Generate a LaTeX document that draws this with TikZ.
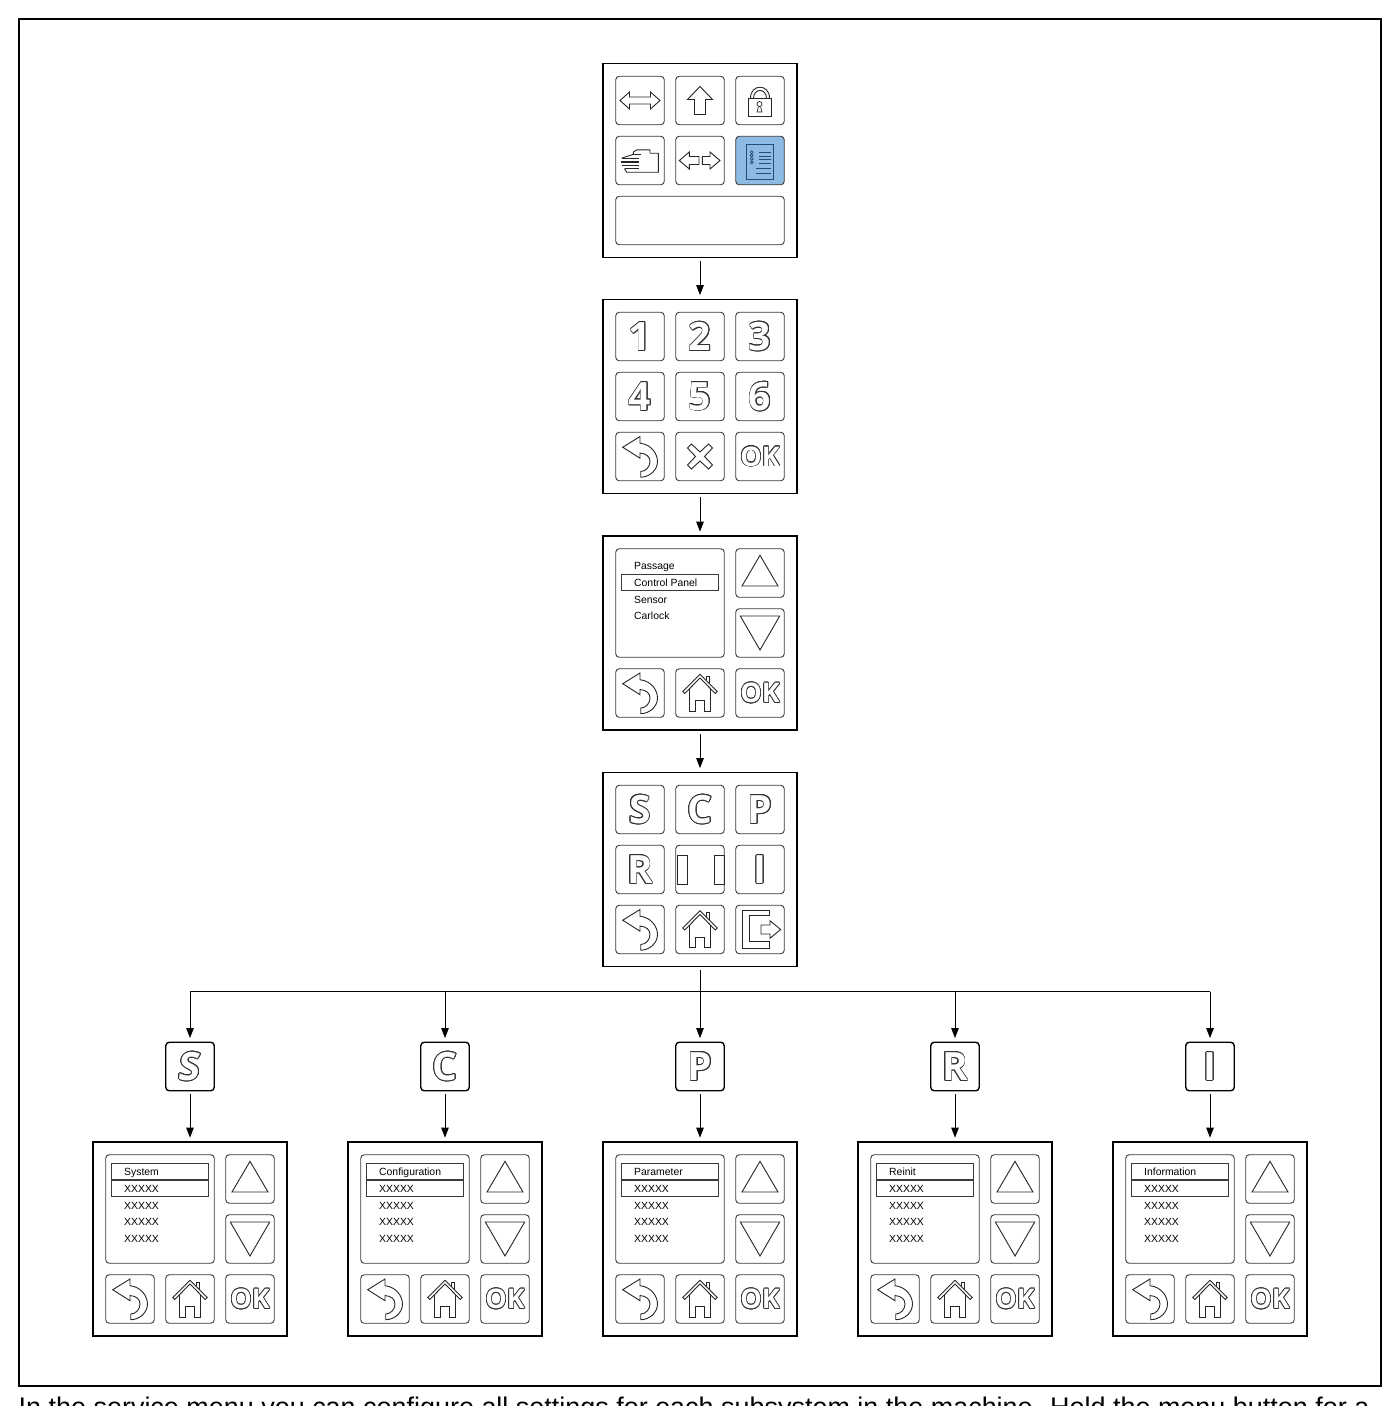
\documentclass[tikz,border=0pt]{standalone}
\usepackage{fontspec}
\setmainfont{Liberation Sans}
\newfontfamily\keyfont{Open Sans}
\usepackage{tikz}
\usetikzlibrary{arrows.meta, positioning, calc}
\definecolor{activeblue}{HTML}{8DBBE3}
\definecolor{activeline}{HTML}{1F4E79}
\definecolor{keyline}{HTML}{3A3A3A}
% outlined key letter: dark copies in a ring, white one on top
\newcommand{\keychar}[1]{%
    \foreach \a in {0,22.5,...,337.5}{%
        \pgfmathsetlengthmacro{\dx}{0.75pt*cos(\a)}%
        \pgfmathsetlengthmacro{\dy}{0.75pt*sin(\a)}%
        \rlap{\kern\dx\raise\dy\hbox{\textcolor{black!80}{#1}}}%
    }%
    \textcolor{white}{#1}%
}
\newcommand{\okchar}{{\fontsize{27}{27}\selectfont\keychar{OK}}}

\tikzset{
    panel/.style={rectangle, draw=black, line width=1.7pt, fill=white, minimum width=194pt, minimum height=194pt, inner sep=0pt},
    key/.style={rectangle, draw=keyline, line width=0.9pt, fill=white, rounded corners=3.5pt, minimum width=48.5pt, minimum height=48.5pt, inner sep=0pt, font=\keyfont\bfseries\fontsize{39}{39}\selectfont},
    wide/.style={key, minimum width=108.5pt, minimum height=108.5pt},
    disp/.style={key, minimum width=168.5pt, minimum height=48.5pt},
    topkey/.style={key, draw=black, line width=1.4pt},
    letter/.style={inner sep=0pt, font=\keyfont\bfseries\fontsize{39}{39}\selectfont},
    rowbox/.style={rectangle, draw=keyline, line width=0.9pt, minimum width=97.5pt, minimum height=15.5pt, inner sep=0pt},
    rowtxt/.style={anchor=west, inner sep=0pt, yshift=-1pt, text height=7.5pt, text depth=2.2pt, font=\fontsize{10.4}{12}\selectfont},
    icon/.style={draw=black!85, line width=0.9pt, line join=miter},
    flow/.style={-{Triangle[length=10pt,width=7.5pt]}, line width=0.9pt, black, shorten <=3pt, shorten >=3.5pt},
    trunk/.style={line width=0.9pt, black},
    pics/backicon/.style={code={
        \draw[icon] (-17.3,-9.3) -- (0,-20) -- (0,-13.3) .. controls (12,-12) and (17.5,-2) .. (17.5,5) .. controls (17.5,14) and (9,20.7) .. (0.7,20.7) -- (0.7,15) .. controls (6,15) and (10,10) .. (10,5) .. controls (10,0) and (6,-3) .. (0,-3.5) -- (0,1.7) -- cycle;
    }},
    pics/homeicon/.style={code={
        \draw[icon] (-17.3,-1.5) -- (0,-18.7) -- (17.3,-1.5) -- (15.3,0.5) -- (0,-15) -- (-15.3,0.5) -- cycle;
        \draw[icon] (-10.5,-4.5) -- (-10.5,18) -- (-4.5,18) -- (-4.5,7.7) -- (4.5,7.7) -- (4.5,18) -- (10.5,18) -- (10.5,-4.5);
        \draw[icon] (6,-13) -- (6,-17) -- (9,-17) -- (9,-10);
    }},
    pics/upicon/.style={code={\draw[icon] (0,-17.7) -- (18,13) -- (-18,13) -- cycle;}},
    pics/downicon/.style={code={\draw[icon] (-19.7,-17) -- (19.7,-17) -- (0,17) -- cycle;}}
}

% screen with rows and the three lower keys, shared by the menu panels
\newcommand{\lowerkeys}[3]{%
    \node[key] (#1up) at (#2+60,#3-60) {};
    \node[key] (#1dn) at (#2+60,#3) {};
    \node[key] (#1bk) at (#2-60,#3+60) {};
    \node[key] (#1hm) at (#2,#3+60) {};
    \node[key] (#1ok) at (#2+60,#3+60) {\okchar};
    \node[wide] (#1sc) at (#2-30,#3-30) {};
    \pic at (#1up) {upicon};
    \pic at (#1dn) {downicon};
    \pic at (#1bk) {backicon};
    \pic at (#1hm) {homeicon};
}
\newcommand{\subpanel}[4]{%
    \node[panel] (#1) at (#2,1239) {};
    \lowerkeys{#1}{#2}{1239}
    \node[rowbox, line width=1.2pt] (#1t) at (#2-30,1171.5) {};
    \node[rowbox] (#1r) at (#2-30,1188.5) {};
    \node[rowtxt] at (#2-66,1171.5) {#3};
    \foreach \ry in {1188.5,1205.5,1222,1239}
        \node[rowtxt] at (#2-66,\ry) {XXXXX};
    \node[key, topkey] (#4) at (#2,1066.5) {};
}

\begin{document}
\begin{tikzpicture}[x=1pt, y=-1pt]

\clip (0,0) rectangle (1400,1406);
\fill[white] (0,0) rectangle (1400,1406);

\node[rectangle, draw=black, line width=1.5pt, minimum width=1362pt, minimum height=1367pt, inner sep=0pt] (frame) at (700,702.5) {};
\node[anchor=base west, inner sep=0pt, font=\fontsize{26.95}{29}\selectfont] (caption) at (18.5,1416) {In the service menu you can configure all settings for each subsystem in the machine. Hold the menu button for a};

% -- PANEL 1: MAIN --
\node[panel] (main) at (700,160.5) {};
\node[key] (mk1) at (640,100.5) {};
\node[key] (mk2) at (700,100.5) {};
\node[key] (mk3) at (760,100.5) {};
\node[key] (mk4) at (640,160.5) {};
\node[key] (mk5) at (700,160.5) {};
\node[key, fill=activeblue] (mk6) at (760,160.5) {};
\node[disp] (mdisp) at (700,220.5) {};

\begin{scope}[shift={(mk1)}]
    \draw[icon] (-20,0) -- (-10.5,-8.5) -- (-10.5,-3.5) -- (10.5,-3.5) -- (10.5,-8.5) -- (20,0) -- (10.5,8.5) -- (10.5,3.5) -- (-10.5,3.5) -- (-10.5,8.5) -- cycle;
\end{scope}
\begin{scope}[shift={(mk2)}]
    \draw[icon] (0,-14) -- (12.5,-1) -- (5.5,-1) -- (5.5,14) -- (-5.5,14) -- (-5.5,-1) -- (-12.5,-1) -- cycle;
\end{scope}
\begin{scope}[shift={(mk3)}]
    \draw[icon] (-11.7,-2.3) rectangle (11.7,16);
    \draw[icon] (-9.5,-2.3) .. controls (-9.5,-17) and (9.5,-17) .. (9.5,-2.3);
    \draw[icon] (-6.5,-2.3) .. controls (-6.5,-12.5) and (6.5,-12.5) .. (6.5,-2.3);
    \draw[icon, line width=0.7pt] (-0.5,3.5) circle (2.5);
    \draw[icon, line width=0.7pt] (-1.5,6) -- (-3,11.5) -- (2,11.5) -- (0.5,6);
\end{scope}
\begin{scope}[shift={(mk4)}]
    \draw[icon] (10,-7.3) -- (18.3,-7.3) -- (18.3,11.7) -- (-13.3,11.7) -- (-15.5,8.2);
    \draw[icon] (-18.3,-2.3) -- (-6.7,-6.2) -- (-6.7,-8.5) -- (-3.3,-10.7) -- (10,-10.7) -- (10,-7.3);
    \draw[icon] (-6.7,-6.2) -- (1,-6.2);
    \draw[icon, line width=1.3pt] (-18.3,-1.8) -- (-1,-1.8) (-18.8,1.5) -- (-1,1.5) (-18.3,4.8) -- (-1,4.8) (-15.5,8.2) -- (-1,8.2);
\end{scope}
\begin{scope}[shift={(mk5)}]
    \draw[icon] (-20.7,0) -- (-10.7,-8.5) -- (-10.7,-4) -- (-1,-4) -- (-1,4) -- (-10.7,4) -- (-10.7,8.5) -- cycle;
    \draw[icon] (20,0) -- (10,-8.5) -- (10,-4) -- (2.3,-4) -- (2.3,4) -- (10,4) -- (10,8.5) -- cycle;
\end{scope}
\begin{scope}[shift={(mk6)}]
    \draw[activeline, line width=0.9pt] (-13.5,-16.5) rectangle (13.5,18.5);
    \foreach \ly in {-8.3,-4.3,-0.7,3.3}
        \draw[activeline, line width=0.9pt] (-1,\ly) -- (10.7,\ly);
    \foreach \ly in {8.3,12.7}
        \draw[activeline, line width=0.9pt] (-4,\ly) -- (10.7,\ly);
    \foreach \ly in {-8.3,-5,-1.6,1.8}
        \draw[activeline, line width=0.7pt] (-8.3,\ly) circle (1.5);
\end{scope}

% -- PANEL 2: NUMBER PAD --
\node[panel] (pad) at (700,396.5) {};
\node[key] (pk1) at (640,336.5) {\keychar{1}};
\node[key] (pk2) at (700,336.5) {\keychar{2}};
\node[key] (pk3) at (760,336.5) {\keychar{3}};
\node[key] (pk4) at (640,396.5) {\keychar{4}};
\node[key] (pk5) at (700,396.5) {\keychar{5}};
\node[key] (pk6) at (760,396.5) {\keychar{6}};
\node[key] (pk7) at (640,456.5) {};
\node[key] (pk8) at (700,456.5) {};
\node[key] (pk9) at (760,456.5) {\okchar};
\pic at (pk7) {backicon};
\begin{scope}[shift={(pk8)}]
    \draw[icon] (-12.5,-8.5) -- (-8.5,-12.5) -- (0,-4.5) -- (8.5,-12.5) -- (12.5,-8.5) -- (4.5,0) -- (12.5,8.5) -- (8.5,12.5) -- (0,4.5) -- (-8.5,12.5) -- (-12.5,8.5) -- (-4.5,0) -- cycle;
\end{scope}

% -- PANEL 3: SUBSYSTEM LIST --
\node[panel] (list) at (700,633) {};
\lowerkeys{list}{700}{633}
\node[rowbox] (listr) at (670,582.5) {};
\node[rowtxt] at (634,566) {Passage};
\node[rowtxt] at (634,582.5) {Control Panel};
\node[rowtxt] at (634,599.5) {Sensor};
\node[rowtxt] at (634,616) {Carlock};

% -- PANEL 4: SERVICE MENU --
\node[panel] (serv) at (700,869.5) {};
\node[key] (sk1) at (640,809.5) {\keychar{S}};
\node[key] (sk2) at (700,809.5) {\keychar{C}};
\node[key] (sk3) at (760,809.5) {\keychar{P}};
\node[key] (sk4) at (640,869.5) {\keychar{R}};
\node[key] (sk5) at (700,869.5) {};
\node[key] (sk6) at (760,869.5) {\keychar{I}};
\node[key] (sk7) at (640,929.5) {};
\node[key] (sk8) at (700,929.5) {};
\node[key] (sk9) at (760,929.5) {};
\pic at (sk7) {backicon};
\pic at (sk8) {homeicon};
\begin{scope}[shift={(sk5)}]
    \draw[icon] (-23,-14.5) rectangle (-13,14.5);
    \draw[icon] (14,-14.5) rectangle (24,14.5);
\end{scope}
\begin{scope}[shift={(sk9)}]
    \draw[icon] (9,-19.3) -- (-17.7,-19.3) -- (-17.7,19) -- (9,19) -- (9,12.3) -- (-11,12.3) -- (-11,-13.7) -- (9,-13.7) -- cycle;
    \draw[icon] (20.7,0) -- (10,-8.7) -- (10,-4.5) -- (1,-4.5) -- (1,4.5) -- (10,4.5) -- (10,8.7) -- cycle;
\end{scope}

% -- BOTTOM ROW --
\subpanel{subs}{190}{System}{tops}
\subpanel{subc}{445}{Configuration}{topc}
\subpanel{subp}{700}{Parameter}{topp}
\subpanel{subr}{955}{Reinit}{topr}
\subpanel{subi}{1210}{Information}{topi}
\node[letter, xslant=0.12] (ltrs) at (tops) {\keychar{S}};
\node[letter] (ltrc) at (topc) {\keychar{C}};
\node[letter] (ltrp) at (topp) {\keychar{P}};
\node[letter] (ltrr) at (topr) {\keychar{R}};
\node[letter] (ltri) at (topi) {\keychar{I}};

% -- CONNECTORS --
\draw[flow] (main) -- (pad);
\draw[flow] (pad) -- (list);
\draw[flow] (list) -- (serv);
\coordinate (split) at (700,991.7);
\draw[flow] (serv) -- (topp);
\draw[trunk] (split -| tops) -- (split -| topi);
\foreach \c in {s,c,r,i}
    \draw[flow, shorten <=0pt] (split -| top\c) -- (top\c);
\foreach \c in {s,c,p,r,i}
    \draw[flow] (top\c) -- (sub\c);

\end{tikzpicture}
\end{document}
